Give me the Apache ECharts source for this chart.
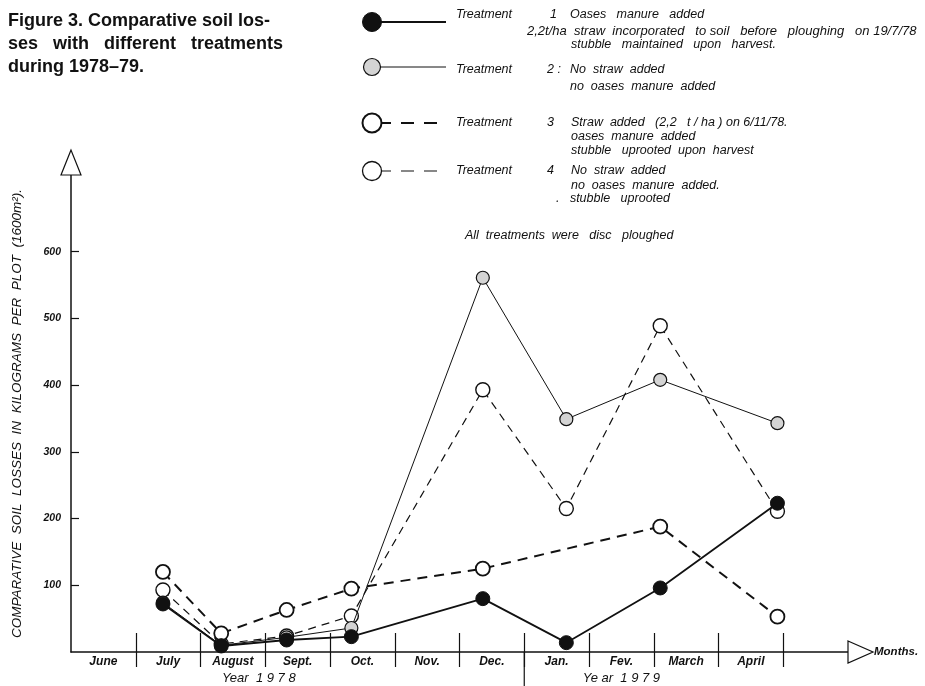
<!DOCTYPE html>
<html>
<head>
<meta charset="utf-8">
<script src="https://cdn.jsdelivr.net/npm/echarts@6/dist/echarts.min.js"></script>
<style>
  html, body { margin: 0; padding: 0; background: #fff; }
  #chart { width: 925px; height: 686px; }
</style>
</head>
<body>
<div id="chart"></div>
<script>
// month labels along the time axis, one per month cell
const months = ['June', 'July', 'August', 'Sept.', 'Oct.', 'Nov.', 'Dec.', 'Jan.', 'Fev.', 'March', 'April'];
// position of each sampling inside the month scale (0 = start of June)
const sampleTimes = [1.42, 2.32, 3.33, 4.33, 6.36, 7.65, 9.10, 10.91];
// soil losses, kg per plot (1600 m2)
const treatment1 = [72, 9, 18, 23, 80, 14, 96, 223];
const treatment2 = [74, 10, 22, 36, 561, 349, 408, 343];
const treatment3 = [120, 28, 63, 95, 125, null, 188, 53];
const treatment4 = [93, 12, 24, 54, 393, 215, 489, 211];
const yTicks = [100, 200, 300, 400, 500, 600];
const monthBounds = [1, 2, 3, 4, 5, 6, 7, 8, 9, 10, 11];

const chart = echarts.init(document.getElementById('chart'));
const font = 'Liberation Sans';

function pairs(values) {
  return values.map((v, i) => [sampleTimes[i], v]);
}

const option = {
  backgroundColor: '#fff',
  animation: false,
  grid: { left: 71, right: 77, top: 175, bottom: 34 },
  xAxis: [
    {
      type: 'value',
      min: 0,
      max: 12,
      position: 'bottom',
      axisLine: { lineStyle: { color: '#111', width: 1.5 } },
      splitLine: { show: false },
      axisTick: { customValues: monthBounds, length: 15, lineStyle: { color: '#111', width: 1.2 } },
      axisLabel: {
        customValues: months.map((m, i) => i + 0.5),
        formatter: v => months[Math.floor(v)] || '',
        margin: 4,
        color: '#111',
        fontFamily: font,
        fontStyle: 'italic',
        fontWeight: 'bold',
        fontSize: 12
      }
    },
    {
      type: 'value',
      min: 0,
      max: 12,
      position: 'bottom',
      axisLine: { show: false },
      splitLine: { show: false },
      axisTick: { customValues: monthBounds, inside: true, length: 19, lineStyle: { color: '#111', width: 1.2 } },
      axisLabel: { show: false }
    }
  ],
  yAxis: {
    type: 'value',
    min: 0,
    max: 715,
    name: 'COMPARATIVE  SOIL  LOSSES  IN  KILOGRAMS  PER  PLOT  (1600m²).',
    nameLocation: 'middle',
    nameRotate: 90,
    nameGap: 47,
    nameTextStyle: { fontFamily: font, fontStyle: 'italic', fontSize: 13.5, color: '#111' },
    axisLine: { show: true, lineStyle: { color: '#111', width: 1.5 } },
    splitLine: { show: false },
    axisTick: { show: true, inside: true, length: 8, customValues: yTicks, lineStyle: { color: '#111', width: 1.2 } },
    axisLabel: {
      customValues: yTicks,
      margin: 10,
      color: '#111',
      fontFamily: font,
      fontStyle: 'italic',
      fontWeight: 'bold',
      fontSize: 10.5
    }
  },
  series: [
    {
      name: 'Treatment 4',
      type: 'line',
      data: pairs(treatment4),
      symbol: 'circle',
      symbolSize: 14,
      lineStyle: { color: '#111', width: 1.2, type: [8, 6] },
      itemStyle: { color: '#fff', borderColor: '#111', borderWidth: 1.4 },
      z: 2
    },
    {
      name: 'Treatment 3',
      type: 'line',
      data: pairs(treatment3),
      connectNulls: true,
      symbol: 'circle',
      symbolSize: 14,
      lineStyle: { color: '#111', width: 2, type: [10, 7] },
      itemStyle: { color: '#fff', borderColor: '#111', borderWidth: 1.8 },
      z: 3
    },
    {
      name: 'Treatment 2',
      type: 'line',
      data: pairs(treatment2),
      symbol: 'circle',
      symbolSize: 13,
      lineStyle: { color: '#111', width: 1 },
      itemStyle: { color: '#d4d4d4', borderColor: '#111', borderWidth: 1.2 },
      z: 4
    },
    {
      name: 'Treatment 1',
      type: 'line',
      data: pairs(treatment1),
      symbol: 'circle',
      symbolSize: 14,
      lineStyle: { color: '#111', width: 1.8 },
      itemStyle: { color: '#111', borderColor: '#111', borderWidth: 1 },
      z: 5
    }
  ]
};

chart.setOption(option);

// decorations: caption, hand-drawn legend, open arrow heads, year labels
const txt = (x, y, s, extra) => ({
  type: 'text',
  x: x,
  y: y,
  style: Object.assign({
    text: s,
    fill: '#111',
    font: 'italic 12px "' + font + '"',
    verticalAlign: 'middle'
  }, extra || {})
});
const small = 'italic 12.5px "' + font + '"';

const caption = (y, s) => ({
  type: 'text',
  x: 8,
  y: y,
  style: { text: s, fill: '#111', font: 'bold 18px "' + font + '"', verticalAlign: 'middle' }
});

const origin = chart.convertToPixel({ gridIndex: 0 }, [0, 0]);
const yTop = chart.convertToPixel({ gridIndex: 0 }, [0, 715]);
const xEnd = chart.convertToPixel({ gridIndex: 0 }, [12, 0]);
const janLine = chart.convertToPixel({ gridIndex: 0 }, [7, 0]);
const year78 = chart.convertToPixel({ gridIndex: 0 }, [2.9, 0]);
const year79 = chart.convertToPixel({ gridIndex: 0 }, [8.5, 0]);

const legendLine = (y, width, dash) => ({
  type: 'line',
  shape: { x1: 378, y1: y, x2: 446, y2: y },
  style: { stroke: '#111', lineWidth: width, lineDash: dash || null }
});
const legendDot = (y, r, fill, lw) => ({
  type: 'circle',
  shape: { cx: 372, cy: y, r: r },
  style: { fill: fill, stroke: '#111', lineWidth: lw },
  z: 10
});

chart.setOption({
  graphic: [
    caption(21, 'Figure 3. Comparative soil los-'),
    caption(44, 'ses   with   different   treatments'),
    caption(67, 'during 1978–79.'),

    legendLine(22, 2),
    legendDot(22, 9.5, '#111', 1),
    txt(456, 15, 'Treatment', { font: small }),
    txt(550, 15, '1', { font: small }),
    txt(570, 15, 'Oases   manure   added', { font: small }),
    txt(527, 31, '2,2t/ha  straw  incorporated   to soil   before   ploughing   on 19/7/78', { font: 'italic 13px "' + font + '"' }),
    txt(571, 45, 'stubble   maintained   upon   harvest.', { font: small }),

    legendLine(67, 1),
    legendDot(67, 8.5, '#d4d4d4', 1.2),
    txt(456, 70, 'Treatment', { font: small }),
    txt(547, 70, '2 :', { font: small }),
    txt(570, 70, 'No  straw  added', { font: small }),
    txt(570, 87, 'no  oases  manure  added', { font: small }),

    legendLine(123, 2.2, [13, 10]),
    legendDot(123, 9.5, '#fff', 2),
    txt(456, 123, 'Treatment', { font: small }),
    txt(547, 123, '3', { font: small }),
    txt(571, 123, 'Straw  added   (2,2   t / ha ) on 6/11/78.', { font: small }),
    txt(571, 137, 'oases  manure  added', { font: small }),
    txt(571, 151, 'stubble   uprooted  upon  harvest', { font: small }),

    legendLine(171, 1.2, [13, 10]),
    legendDot(171, 9.5, '#fff', 1.3),
    txt(456, 171, 'Treatment', { font: small }),
    txt(547, 171, '4', { font: small }),
    txt(571, 171, 'No  straw  added', { font: small }),
    txt(571, 186, 'no  oases  manure  added.', { font: small }),
    txt(556, 199, '.   stubble   uprooted', { font: small }),

    txt(465, 236, 'All  treatments  were   disc   ploughed', { font: small }),

    {
      type: 'polygon',
      shape: { points: [[yTop[0], yTop[1] - 25], [yTop[0] - 10, yTop[1]], [yTop[0] + 10, yTop[1]]] },
      style: { fill: '#fff', stroke: '#111', lineWidth: 1.2 },
      z: 10
    },
    {
      type: 'polygon',
      shape: { points: [[xEnd[0], xEnd[1] - 11], [xEnd[0] + 25, xEnd[1]], [xEnd[0], xEnd[1] + 11]] },
      style: { fill: '#fff', stroke: '#111', lineWidth: 1.2 },
      z: 10
    },
    txt(xEnd[0] + 26, xEnd[1], 'Months.', { font: 'italic bold 11.5px "' + font + '"' }),

    {
      type: 'line',
      shape: { x1: janLine[0], y1: janLine[1], x2: janLine[0], y2: 686 },
      style: { stroke: '#111', lineWidth: 1.2 }
    },
    txt(year78[0], origin[1] + 26, 'Year  1 9 7 8', { textAlign: 'center', font: 'italic 13px "' + font + '"' }),
    txt(year79[0], origin[1] + 26, 'Ye ar  1 9 7 9', { textAlign: 'center', font: 'italic 13px "' + font + '"' })
  ]
});

window.addEventListener('resize', () => chart.resize());
</script>
</body>
</html>
